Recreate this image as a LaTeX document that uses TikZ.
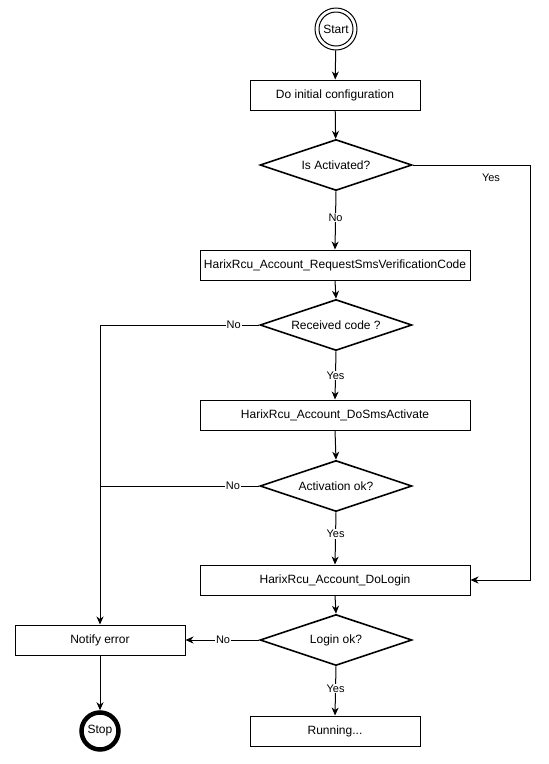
\documentclass[tikz,border=0pt]{standalone}
\usepackage{fontspec}
\setmainfont{Liberation Sans}
\usetikzlibrary{shapes.geometric,arrows.meta}
\begin{document}
\begin{tikzpicture}[x=1pt,y=-1pt,
  every node/.style={font=\fontsize{12}{14}\selectfont},
  procbox/.style={draw=black,line width=1pt,rectangle,minimum height=30pt,inner sep=0pt},
  decision/.style={draw=black,line width=1.6pt,diamond,aspect=3,inner sep=1pt,minimum width=152pt,minimum height=51pt},
  flow/.style={draw=black,line width=1pt,-{Stealth[length=8pt,width=7pt,inset=2.5pt]}},
  plain/.style={draw=black,line width=1pt},
  elabel/.style={fill=white,inner sep=1pt,font=\fontsize{11}{13}\selectfont}]
\useasboundingbox (0,0) rectangle (549,764);
% nodes
\node[circle,draw=black,line width=1pt,minimum size=42pt,inner sep=0pt] (startO) at (336,29) {};
\node[circle,draw=black,line width=1pt,minimum size=34pt,inner sep=0pt] (start) at (336,29) {Start};
\node[procbox,minimum width=170pt] (init) at (335,95) {Do initial configuration};
\node[decision] (act) at (336,165) {Is Activated?};
\node[procbox,minimum width=270pt] (req) at (335,265) {HarixRcu\_Account\_RequestSmsVerificationCode};
\node[decision] (rec) at (336,325) {Received code ?};
\node[procbox,minimum width=270pt] (sms) at (335,415) {HarixRcu\_Account\_DoSmsActivate};
\node[decision] (actok) at (336,486) {Activation ok?};
\node[procbox,minimum width=270pt] (login) at (335,580) {HarixRcu\_Account\_DoLogin};
\node[decision] (loginok) at (336,640) {Login ok?};
\node[procbox,minimum width=170pt] (notify) at (100,640) {Notify error};
\node[procbox,minimum width=170pt] (run) at (335,731) {Running...};
\node[circle,draw=black,line width=4.5pt,minimum size=37pt,inner sep=0pt] (stop) at (100,731) {Stop};
% coordinates
\coordinate (rA) at (530,165);
\coordinate (rB) at (530,580);
\coordinate (lA) at (100,325);
\coordinate (lB) at (100,486);
% edges
\draw[flow] (startO) -- (init);
\draw[flow] (init) -- (act);
\draw[flow] (act.east) -- (rA) -- (rB) -- (login.east);
\node[elabel] (yesA) at (491,178) {Yes};
\draw[flow] (act.south) -- node[elabel,pos=0.45] (noA) {No} (req.north);
\draw[flow] (req.south) -- (rec.north);
\draw[flow] (rec.west) -- node[elabel,pos=0.16] (noB) {No} (lA) -- (notify.north);
\draw[flow] (rec.south) -- node[elabel,pos=0.5] (yesB) {Yes} (sms.north);
\draw[flow] (sms.south) -- (actok.north);
\draw[plain] (actok.west) -- node[elabel,pos=0.165] (noC) {No} (lB);
\draw[flow] (actok.south) -- node[elabel,pos=0.42] (yesC) {Yes} (login.north);
\draw[flow] (login.south) -- (loginok.north);
\draw[flow] (loginok.west) -- node[elabel,pos=0.49] (noD) {No} (notify.east);
\draw[flow] (loginok.south) -- node[elabel,pos=0.45] (yesD) {Yes} (run.north);
\draw[flow] (notify.south) -- (stop.north);
\end{tikzpicture}
\end{document}
